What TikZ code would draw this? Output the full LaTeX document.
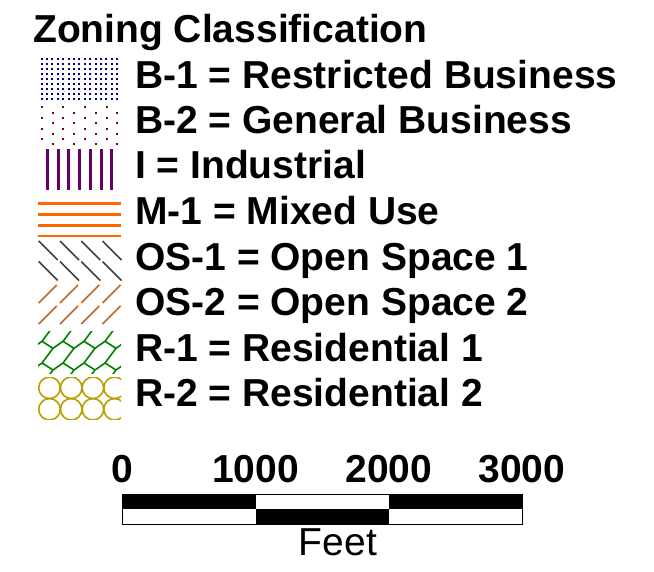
\documentclass[tikz,border=0pt]{standalone}
\usepackage{fontspec}
\setmainfont{Liberation Sans}

\definecolor{zonenavy}{RGB}{0,0,128}
\definecolor{zonered}{RGB}{128,0,0}
\definecolor{zonepurple}{RGB}{102,0,102}
\definecolor{zoneorange}{RGB}{255,102,0}
\definecolor{zonegray}{RGB}{64,64,64}
\definecolor{zonebrown}{RGB}{184,104,44}
\definecolor{zonegreen}{RGB}{0,128,0}
\definecolor{zoneolive}{RGB}{184,160,0}

\begin{document}
\begin{tikzpicture}[x=1pt,y=-1pt]
\tikzset{
  LegendText/.style = {anchor=base west, inner sep=0pt,
                       font=\fontsize{39}{39}\selectfont\bfseries},
  ScaleText/.style  = {anchor=base, inner sep=0pt,
                       font=\fontsize{39}{39}\selectfont\bfseries},
  FeetText/.style   = {anchor=base, inner sep=0pt,
                       font=\fontsize{39}{39}\selectfont},
  HatchLine/.style  = {line width=1.6pt},
}
  \useasboundingbox (0,0) rectangle (654,571);

  \node[LegendText] (title) at (33,42) {Zoning Classification};

  \node[LegendText] (B1)  at (135,88)  {B-1 = Restricted Business};
  \node[LegendText] (B2)  at (135,133) {B-2 = General Business};
  \node[LegendText] (I)   at (135,178) {I = Industrial};
  \node[LegendText] (M1)  at (135,224) {M-1 = Mixed Use};
  \node[LegendText] (OS1) at (135,270) {OS-1 = Open Space 1};
  \node[LegendText] (OS2) at (135,315) {OS-2 = Open Space 2};
  \node[LegendText] (R1)  at (135,361) {R-1 = Residential 1};
  \node[LegendText] (R2)  at (135,406) {R-2 = Residential 2};

  % B-1
  \begin{scope}
    \clip (40,58) rectangle (120,100);
    \foreach \i in {0,...,14}
      \foreach \j in {0,...,8}
        \fill[zonenavy] (40.7+5.38*\i, 57.5+5.1*\j) rectangle ++(2,2);
  \end{scope}

  % B-2
  \begin{scope}
    \clip (40,105) rectangle (120,146);
    \foreach \i in {0,...,3}
      \foreach \j in {0,...,3} {
        \fill[zonered] (40.7+21.6*\i, 106.3+10.6*\j) rectangle ++(2,2);
        \fill[zonered] (51.5+21.6*\i, 111.6+10.6*\j) rectangle ++(2,2);
      }
  \end{scope}

  % I
  \foreach \i in {0,...,6}
    \draw[zonepurple, line width=3pt] (47.3+10.75*\i,149) -- ++(0,41);

  % M-1
  \begin{scope}
    \clip (38,200) rectangle (121,236.5);
    \foreach \j in {0,...,3}
      \draw[zoneorange, line width=3pt] (38,203.5+10.9*\j) -- ++(83,0);
  \end{scope}

  % OS-1
  \foreach \i in {0,...,3}
    \foreach \j in {0,1}
      \draw[zonegray, HatchLine] (38.7+21.3*\i, 241+20.5*\j) -- ++(19,19);

  % OS-2
  \foreach \i in {0,...,3}
    \foreach \j in {0,1}
      \draw[zonebrown, HatchLine] (38.7+21.3*\i, 303+21*\j) -- ++(18,-18);

  % R-1
  \begin{scope}
    \clip (38,331) rectangle (121,373);
    \foreach \i in {-1,...,4}
      \foreach \j in {-1,...,2}
        \draw[zonegreen, HatchLine] (42+21*\i, 341.3+21.7*\j) -- ++(11,7)
          coordinate (knot) -- ++(10,-7) (knot) -- ++(-11,14.7);
  \end{scope}

  % R-2
  \begin{scope}
    \clip (38,377) rectangle (121,419);
    \foreach \i in {0,...,3}
      \foreach \j in {0,1}
        \draw[zoneolive, HatchLine] (49.5+21.7*\i, 387.8+21.5*\j) circle (10.75);
  \end{scope}

  % scale bar
  \node[ScaleText] (n0)    at (122,482)   {0};
  \node[ScaleText] (n1000) at (255.5,482) {1000};
  \node[ScaleText] (n2000) at (389,482)   {2000};
  \node[ScaleText] (n3000) at (522,482)   {3000};

  \fill (122,494) rectangle (255.5,509);
  \fill (389,494) rectangle (522,509);
  \fill (255.5,509) rectangle (389,524);
  \draw[line width=1pt] (122,494) rectangle (522,524);

  \node[FeetText] (feet) at (338,555) {Feet};

\end{tikzpicture}
\end{document}
